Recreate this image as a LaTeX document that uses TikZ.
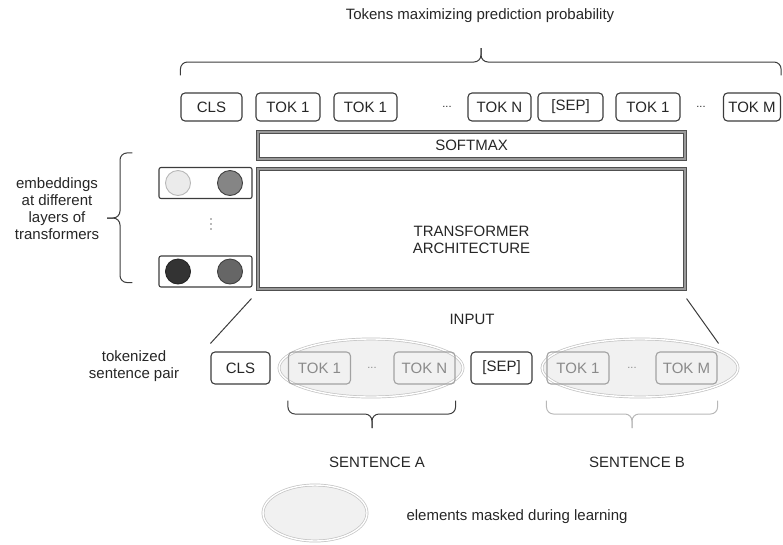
\documentclass[tikz,border=0pt]{standalone}
\usepackage{fontspec}
\setmainfont{Liberation Sans}
\usetikzlibrary{shapes.geometric}

\definecolor{boxline}{HTML}{3C3C3C}
\definecolor{txt}{HTML}{262626}
\definecolor{maskbox}{HTML}{A2A2A2}
\definecolor{masktxt}{HTML}{8A8A8A}
\definecolor{maskring}{HTML}{C2C2C2}
\definecolor{maskfill}{HTML}{F1F1F1}

\begin{document}
\begin{tikzpicture}[x=1pt,y=-1pt,
	font=\fontsize{15}{17}\selectfont, text=txt,
	tok/.style={draw=boxline,line width=1.1pt,rounded corners=4pt,inner sep=0pt,minimum width=#1},
	masktok/.style={tok=#1,draw=maskbox,text=masktxt},
	layer/.style={draw=boxline!90,line width=1.1pt,double=black!40,double distance=1.7pt,inner sep=0pt},
	mask/.style={ellipse,draw=maskring,fill=maskfill,line width=0.7pt,double,double distance=1.4pt},
	emb/.style={draw=boxline,line width=1.1pt,rounded corners=2pt,minimum width=93,minimum height=31},
	unit/.style 2 args={circle,draw=#2,line width=0.9pt,fill=#1,minimum size=25,inner sep=0pt},
	brc/.style={line width=1pt,draw=boxline,rounded corners=7pt}]
	\useasboundingbox (0,0) rectangle (783,544);

	% output tokens
	\node (title) at (480,16) {Tokens maximizing prediction probability};
	\begin{scope}[every node/.append style={minimum height=28}]
		\node[tok=61] (topcls) at (211.5,107) {CLS};
		\node[tok=64] (toptok1) at (288,107) {TOK 1};
		\node[tok=63] (toptok2) at (365.5,107) {TOK 1};
		\node (topdots1) at (447,107) {\fontsize{11}{11}\selectfont ...};
		\node[tok=63] (toptokn) at (499.5,107) {TOK N};
		\node[tok=65] (topsep) at (570.5,107) {[SEP]};
		\node[tok=64] (toptok3) at (648,107) {TOK 1};
		\node (topdots2) at (701,107) {\fontsize{11}{11}\selectfont ...};
		\node[tok=57] (toptokm) at (752,107) {TOK M};
	\end{scope}
	\draw[brc] ([yshift=17pt]topcls.north west) |- (481,62) -- (481,48);
	\draw[brc] ([yshift=17pt]toptokm.north east) |- (481,62) -- (481,48);

	% softmax and transformer
	\node[layer,minimum width=427,minimum height=27] (softmax) at (471.5,145.5) {SOFTMAX};
	\node[layer,minimum width=427,minimum height=120] (tf) at (471.5,229) {};
	\node[align=center] (tftxt) at ([yshift=-11pt]tf.center) {TRANSFORMER\\ARCHITECTURE};

	% embeddings
	\node[emb] (emb1) at (205.5,183) {};
	\node[emb] (emb2) at (205.5,271.5) {};
	\node[unit={black!8}{black!28}] (e1a) at (178,183) {};
	\node[unit={black!48}{black!75}] (e1b) at (230,183) {};
	\node[unit={black!80}{black!85}] (e2a) at (178,271.5) {};
	\node[unit={black!60}{black!75}] (e2b) at (230,271.5) {};
	\foreach \d in {0,1,2}
		\fill[black!55] (211,219+5*\d) circle (0.9pt);
	\draw[brc] ([xshift=-26pt,yshift=14pt]emb1.north west) -| (120,218) -- (107,218);
	\draw[brc] ([xshift=-26pt,yshift=5pt]emb2.south west) -| (120,218) -- (107,218);
	\node[align=center] (embtxt) at (57,209) {embeddings\\at different\\layers of\\transformers};

	% input sequence
	\node (input) at (472,319) {INPUT};
	\node[mask,minimum width=184,minimum height=58] (maskA) at (371,368) {};
	\node[mask,minimum width=196,minimum height=58] (maskB) at (640,368) {};
	\begin{scope}[every node/.append style={minimum height=32}]
		\node[tok=59] (incls) at (240.5,368) {CLS};
		\node[masktok=62] (intok1) at (319.5,368) {TOK 1};
		\node[text=masktxt] (indots1) at (372,368) {\fontsize{11}{11}\selectfont ...};
		\node[masktok=61] (intokn) at (424.5,368) {TOK N};
		\node[tok=61] (insep) at (501.5,368) {[SEP]};
		\node[masktok=62] (intok2) at (578,368) {TOK 1};
		\node[text=masktxt] (indots2) at (632,368) {\fontsize{11}{11}\selectfont ...};
		\node[masktok=61] (intokm) at (686.5,368) {TOK M};
	\end{scope}
	\node[align=center] (pairtxt) at (134,366.5) {tokenized\\sentence pair};

	\draw[line width=1pt,boxline] ([xshift=-6pt,yshift=-9pt]tf.south west) -- ([yshift=8pt]incls.north west);
	\draw[line width=1pt,boxline] ([xshift=1pt,yshift=-9pt]tf.south east) -- ([xshift=1pt,yshift=8pt]intokm.north east);

	% sentence braces
	\draw[brc] ([yshift=-16pt]intok1.south west) |- (372,414) -- (372,428);
	\draw[brc] ([yshift=-16pt]intokn.south east) |- (372,414) -- (372,428);
	\draw[brc,draw=black!28] ([yshift=-16pt]intok2.south west) |- (632,414) -- (632,428);
	\draw[brc,draw=black!28] ([yshift=-16pt]intokm.south east) |- (632,414) -- (632,428);
	\node (senta) at (377,462) {SENTENCE A};
	\node (sentb) at (637,462) {SENTENCE B};

	% legend
	\node[mask,minimum width=104,minimum height=56] (legend) at (315,513) {};
	\node (legendtxt) at (517,517) {elements masked during learning};
\end{tikzpicture}
\end{document}
